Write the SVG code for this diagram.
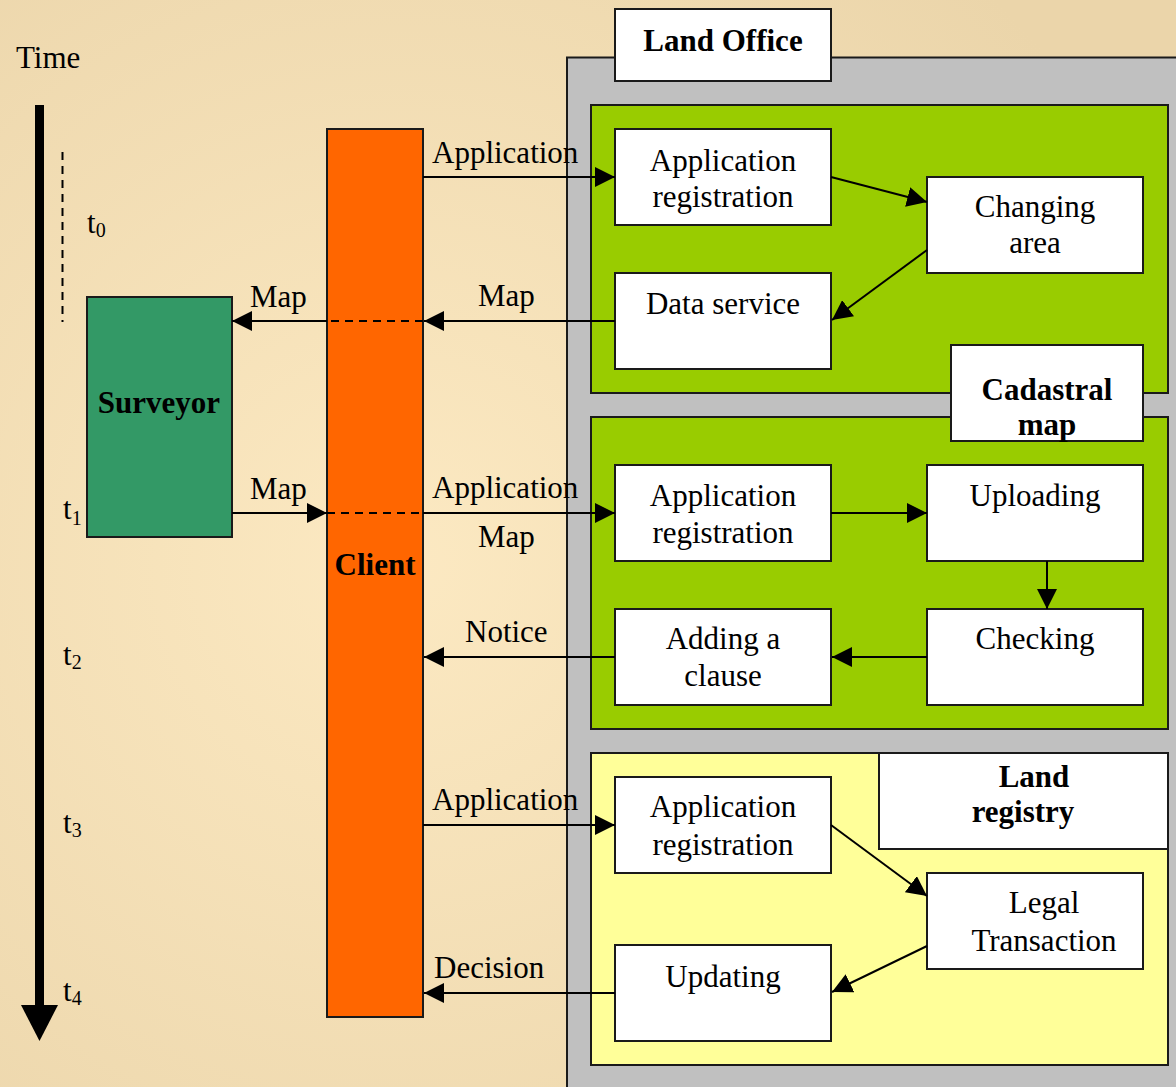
<svg xmlns="http://www.w3.org/2000/svg" width="1176" height="1087" viewBox="0 0 1176 1087">
<defs>
<radialGradient id="bg" cx="400" cy="560" r="820" gradientUnits="userSpaceOnUse">
<stop offset="0" stop-color="#FCE9C2"/>
<stop offset="1" stop-color="#EBD5AA"/>
</radialGradient>
<marker id="ah" markerUnits="userSpaceOnUse" markerWidth="21" markerHeight="20" refX="20" refY="10" orient="auto">
<path d="M0,0 L20,10 L0,20 z" fill="#000"/>
</marker>
<style>
.box{fill:#fff;stroke:#1a1a1a;stroke-width:2}
.t{font-family:"Liberation Serif","Times New Roman",serif;font-size:31px;fill:#000}
.b{font-weight:bold}
.c{text-anchor:middle}
.ln{stroke:#000;stroke-width:2;fill:none}
.arr{stroke:#000;stroke-width:2;fill:none;marker-end:url(#ah)}
.dash{stroke:#000;stroke-width:2;fill:none;stroke-dasharray:8,6}
</style>
</defs>
<rect x="0" y="0" width="1176" height="1087" fill="url(#bg)"/>

<!-- Time axis -->
<g id="time-axis">
<text class="t" x="16" y="68">Time</text>
<line x1="39.5" y1="105" x2="39.5" y2="1008" stroke="#000" stroke-width="9"/>
<polygon points="21,1005 58,1005 39.5,1041" fill="#000"/>
<line x1="62.5" y1="152" x2="62.5" y2="322" class="dash" stroke-width="1.5"/>
<text class="t" x="87" y="233">t<tspan font-size="20" dy="4">0</tspan></text>
<text class="t" x="63" y="519">t<tspan font-size="20" dy="6">1</tspan></text>
<text class="t" x="63" y="665">t<tspan font-size="20" dy="4">2</tspan></text>
<text class="t" x="63" y="833">t<tspan font-size="20" dy="4">3</tspan></text>
<text class="t" x="63" y="1001">t<tspan font-size="20" dy="4">4</tspan></text>
</g>

<!-- Land Office panel -->
<g id="land-office">
<rect x="567" y="57.5" width="615" height="1040" fill="#C0C0C0" stroke="#1a1a1a" stroke-width="2"/>
<rect class="box" x="615" y="9" width="216" height="72"/>
<text class="t b c" x="723" y="51">Land Office</text>
</g>

<g id="group-changing">
<rect x="591" y="105" width="577" height="288" fill="#99CC00" stroke="#1a1a1a" stroke-width="2"/>
</g>
<g id="group-cadastral">
<rect x="591" y="417" width="577" height="312" fill="#99CC00" stroke="#1a1a1a" stroke-width="2"/>
</g>
<g id="group-registry">
<rect x="591" y="753" width="577" height="312" fill="#FFFF99" stroke="#1a1a1a" stroke-width="2"/>
</g>

<g id="label-cadastral">
<rect class="box" x="951" y="345" width="192" height="96"/>
<text class="t b c" x="1047" y="400">Cadastral</text>
<text class="t b c" x="1047" y="435">map</text>
</g>
<g id="label-registry">
<rect class="box" x="879" y="753" width="289" height="96"/>
<text class="t b c" x="1034" y="787">Land</text>
<text class="t b c" x="1023" y="822">registry</text>
</g>

<!-- Actors -->
<g id="surveyor">
<rect x="87" y="297" width="145" height="240" fill="#339966" stroke="#1a1a1a" stroke-width="2"/>
<text class="t b c" x="159" y="413">Surveyor</text>
</g>
<g id="client">
<rect x="327" y="129" width="96" height="888" fill="#FF6600" stroke="#1a1a1a" stroke-width="2"/>
<text class="t b c" x="375" y="575">Client</text>
</g>

<!-- Process nodes -->
<g id="app-reg-1"><rect class="box" x="615" y="129" width="216" height="96"/>
<text class="t c" x="723" y="171">Application</text><text class="t c" x="723" y="207">registration</text></g>
<g id="changing-area"><rect class="box" x="927" y="177" width="216" height="96"/>
<text class="t c" x="1035" y="217">Changing</text><text class="t c" x="1035" y="253">area</text></g>
<g id="data-service"><rect class="box" x="615" y="273" width="216" height="96"/>
<text class="t c" x="723" y="314">Data service</text></g>

<g id="app-reg-2"><rect class="box" x="615" y="465" width="216" height="96"/>
<text class="t c" x="723" y="506">Application</text><text class="t c" x="723" y="543">registration</text></g>
<g id="uploading"><rect class="box" x="927" y="465" width="216" height="96"/>
<text class="t c" x="1035" y="506">Uploading</text></g>
<g id="adding-clause"><rect class="box" x="615" y="609" width="216" height="96"/>
<text class="t c" x="723" y="649">Adding a</text><text class="t c" x="723" y="686">clause</text></g>
<g id="checking"><rect class="box" x="927" y="609" width="216" height="96"/>
<text class="t c" x="1035" y="649">Checking</text></g>

<g id="app-reg-3"><rect class="box" x="615" y="777" width="216" height="96"/>
<text class="t c" x="723" y="817">Application</text><text class="t c" x="723" y="855">registration</text></g>
<g id="legal-transaction"><rect class="box" x="927" y="873" width="216" height="96"/>
<text class="t c" x="1044" y="913">Legal</text><text class="t c" x="1044" y="951">Transaction</text></g>
<g id="updating"><rect class="box" x="615" y="945" width="216" height="96"/>
<text class="t c" x="723" y="987">Updating</text></g>

<!-- Connectors -->
<g id="connectors">
<line class="arr" x1="423" y1="177" x2="615" y2="177"/>
<text class="t" x="432" y="163">Application</text>

<line class="arr" x1="615" y1="321" x2="424" y2="321"/>
<line class="dash" x1="423" y1="321" x2="327" y2="321"/>
<line class="arr" x1="327" y1="321" x2="232" y2="321"/>
<text class="t" x="478" y="306">Map</text>
<text class="t" x="250" y="307">Map</text>

<line class="arr" x1="232" y1="513" x2="327" y2="513"/>
<line class="dash" x1="327" y1="513" x2="423" y2="513"/>
<line class="arr" x1="423" y1="513" x2="615" y2="513"/>
<text class="t" x="250" y="499">Map</text>
<text class="t" x="432" y="498">Application</text>
<text class="t" x="478" y="547">Map</text>

<line class="arr" x1="615" y1="657" x2="424" y2="657"/>
<text class="t" x="465" y="642">Notice</text>

<line class="arr" x1="423" y1="825" x2="615" y2="825"/>
<text class="t" x="432" y="810">Application</text>

<line class="arr" x1="615" y1="993" x2="424" y2="993"/>
<text class="t" x="434" y="978">Decision</text>

<line class="arr" x1="831" y1="177" x2="927" y2="202"/>
<line class="arr" x1="927" y1="250" x2="832" y2="320"/>
<line class="arr" x1="831" y1="513" x2="927" y2="513"/>
<line class="arr" x1="1047" y1="561" x2="1047" y2="609"/>
<line class="arr" x1="927" y1="657" x2="832" y2="657"/>
<line class="arr" x1="831" y1="825" x2="927" y2="896"/>
<line class="arr" x1="927" y1="946" x2="832" y2="992"/>
</g>
</svg>
